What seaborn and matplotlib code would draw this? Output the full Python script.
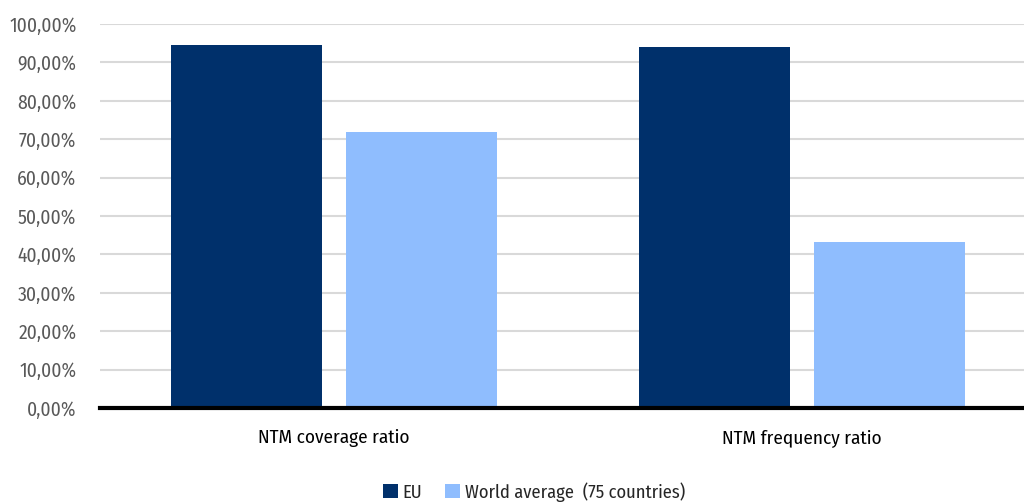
import matplotlib
matplotlib.use("Agg")
import matplotlib.pyplot as plt
from matplotlib.ticker import FuncFormatter
import seaborn as sns
import pandas as pd

categories = ["NTM coverage ratio", "NTM frequency ratio"]
series_names = ["EU", "World average  (75 countries)"]
eu_values = [0.945, 0.940]
world_values = [0.720, 0.431]
y_ticks = [i / 10 for i in range(11)]

df = pd.DataFrame({
    "category": categories * 2,
    "series": [series_names[0]] * 2 + [series_names[1]] * 2,
    "value": eu_values + world_values,
})

sns.set_theme(style="white")
plt.rcParams["font.family"] = ["Fira Sans Condensed", "PT Sans Narrow",
                               "Roboto Condensed", "Archivo Narrow", "DejaVu Sans"]

fig = plt.figure(figsize=(10.24, 5.03), dpi=100)
ax = fig.add_axes([100 / 1024, 95 / 503, 936 / 1024, 384 / 503])

sns.barplot(
    data=df, x="category", y="value", hue="series",
    palette=["#00306B", "#8FBDFE"], width=0.744, gap=0.133,
    saturation=1, linewidth=0, ax=ax, legend=True,
)

ax.set_ylim(0, 1.0)
ax.set_xlim(-0.5, 1.5)
ax.set_yticks(y_ticks)
ax.yaxis.set_major_formatter(FuncFormatter(lambda v, p: f"{v * 100:.2f}%".replace(".", ",")))
ax.grid(axis="y", color="#d9d9d9", linewidth=1.5)
ax.set_axisbelow(True)
for side in ["left", "right", "top"]:
    ax.spines[side].set_visible(False)
ax.spines["bottom"].set_color("black")
ax.spines["bottom"].set_linewidth(3)
ax.spines["bottom"].set_zorder(5)
ax.tick_params(axis="y", length=0, pad=17, labelsize=14, labelcolor="#595959")
ax.tick_params(axis="x", length=0, pad=15, labelsize=13.8, labelcolor="#000000")
ax.set_xlabel("")
ax.set_ylabel("")

handles, labels = ax.get_legend_handles_labels()
ax.get_legend().remove()
fig.legend(
    handles, labels, loc="center", bbox_to_anchor=(534 / 1024, 11 / 503),
    ncol=2, frameon=False, fontsize=13.3, handlelength=0.8, handleheight=0.8,
    handletextpad=0.25, columnspacing=1.25,
)

fig.savefig("out.png", dpi=100)
